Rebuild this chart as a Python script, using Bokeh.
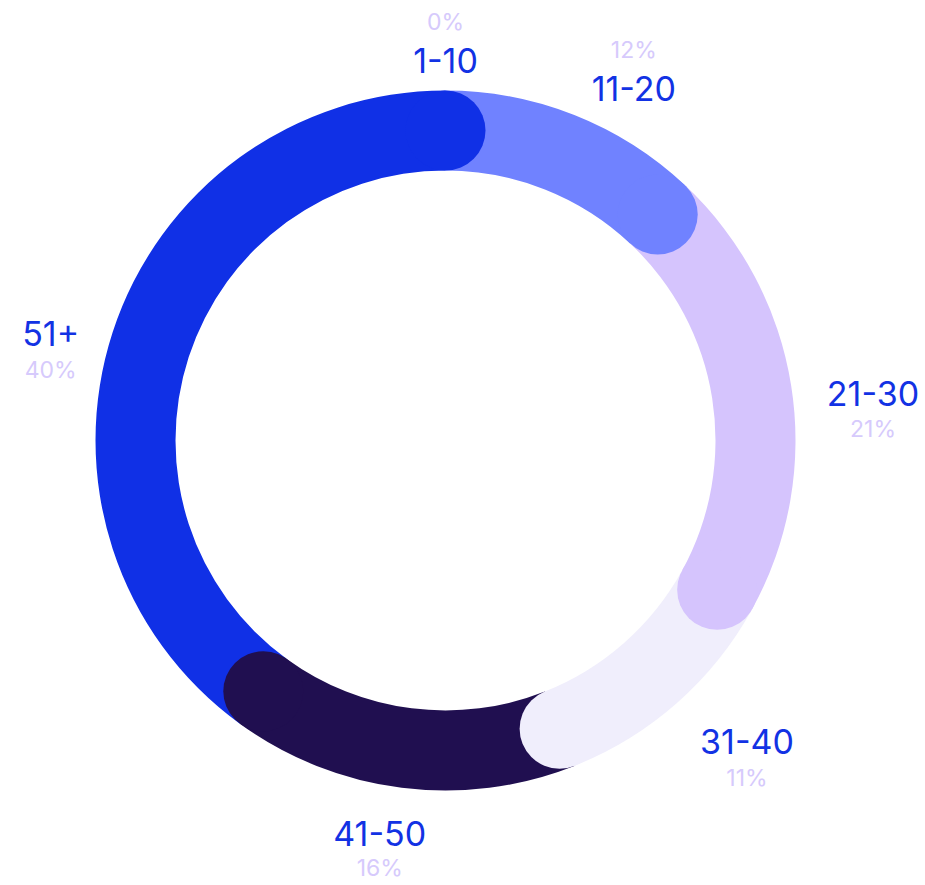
import math
from bokeh.plotting import figure
from bokeh.models import Range1d
from bokeh.core.properties import value
from bokeh.embed import file_html
from bokeh.resources import INLINE

# ---- data ----
categories = ["1-10", "11-20", "21-30", "31-40", "41-50", "51+"]
shares = [0, 12, 21, 11, 16, 40]
colors = ["#1030E6", "#7082FF", "#D5C4FD", "#F0EEFC", "#200F50", "#1030E6"]
pct_labels = ["0%", "12%", "21%", "11%", "16%", "40%"]

# ---- layout ----
W, H = 925, 885
CX, CY = 445, 440           # ring centre in plot pixels (from top-left)
R_IN, R_OUT = 270, 350
R_MID = (R_IN + R_OUT) / 2
CAP = (R_OUT - R_IN) / 2
RX_LABEL, RY_LABEL = 386, 380
NAME_SIZE = 34
PCT_SIZE = 23
CHAR_W = 18.5
NAME_CAP = 24               # visual cap height of the category names
BASE_FIX = 0.36             # renderer baseline shift, in em

p = figure(width=W, height=H, output_backend="svg", toolbar_location=None,
           x_range=Range1d(-CX, W - CX), y_range=Range1d(-(H - CY), CY),
           min_border=0, outline_line_color=None)
p.axis.visible = False
p.grid.visible = False
p.background_fill_color = "white"
p.border_fill_color = "white"

total = float(sum(shares))
starts, ends = [], []
acc = 0.0
for s in shares:
    a0 = acc / total * 2 * math.pi
    acc += s
    a1 = acc / total * 2 * math.pi
    starts.append(a0)
    ends.append(a1)

# wedges (clockwise from top)
for a0, a1, c, s in zip(starts, ends, colors, shares):
    if s <= 0:
        continue
    p.annular_wedge(x=0, y=0, inner_radius=R_IN, outer_radius=R_OUT,
                    start_angle=math.pi / 2 - a0, end_angle=math.pi / 2 - a1,
                    direction="clock", fill_color=c, line_color=None)

# rounded end caps
for a1, c, s in zip(ends, colors, shares):
    if s <= 0:
        continue
    p.circle(x=R_MID * math.sin(a1), y=R_MID * math.cos(a1), radius=CAP,
             fill_color=c, line_color=None)

# labels
for name, pct, a0, a1 in zip(categories, pct_labels, starts, ends):
    th = (a0 + a1) / 2
    sx, cy = math.sin(th), math.cos(th)
    px, py = RX_LABEL * sx, RY_LABEL * cy
    w = len(name) * CHAR_W
    nx = px + w / 2 * max(-1.0, min(1.0, 3 * sx))
    ncy = py - 8 + 8 * cy - 6 * sx * sx     # visual centre of the name
    name_base = ncy - NAME_CAP / 2          # visual baseline of the name
    if cy > 0.5:
        pct_base = name_base + 42
    else:
        pct_base = name_base - 32 if cy > -0.9 else name_base - 31
    p.text(x=[nx], y=[name_base + BASE_FIX * NAME_SIZE], text=[name],
           text_align="center", text_baseline="alphabetic",
           text_font=value("Inter"), text_font_size=f"{NAME_SIZE}px",
           text_color="#1232E4")
    p.text(x=[nx], y=[pct_base + BASE_FIX * PCT_SIZE], text=[pct],
           text_align="center", text_baseline="alphabetic",
           text_font=value("Inter"), text_font_size=f"{PCT_SIZE}px",
           text_color="#D6CAFC")

open("out.html", "w").write(file_html(p, INLINE))
